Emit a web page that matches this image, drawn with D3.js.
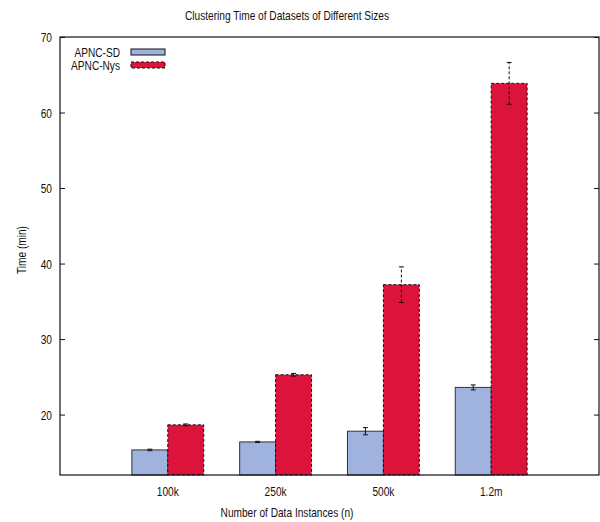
<!DOCTYPE html>
<html>
<head>
<meta charset="utf-8">
<script src="https://cdn.jsdelivr.net/npm/d3@7"></script>
<style>
  html, body { margin: 0; padding: 0; background: #fff; }
  svg text { font-family: "Liberation Sans", Arial, sans-serif; fill: #111; }
</style>
</head>
<body>
<svg id="chart" width="600" height="522"></svg>
<script>
// Dataset sizes and clustering times (minutes), mean and error half-width
const categories = ["100k", "250k", "500k", "1.2m"];
const seriesNames = ["APNC-SD", "APNC-Nys"];
const sdTime = [15.32, 16.38, 17.8, 23.6];
const sdErr = [0.1, 0.08, 0.48, 0.33];
const nysTime = [18.64, 25.27, 37.2, 63.86];
const nysErr = [0.12, 0.18, 2.36, 2.77];
const yTicks = [20, 30, 40, 50, 60, 70];

const svg = d3.select("#chart");
const margin = { left: 60, top: 37, right: 1, bottom: 47 };
const W = 600, H = 522;
const x0 = margin.left, x1 = W - margin.right;
const y0 = margin.top, y1 = H - margin.bottom;

const squeeze = 0.78; // narrow type
function label(sel, x, y, str, anchor, size, rotate) {
  const t = sel.append("text")
    .attr("transform", `translate(${x},${y})` + (rotate ? ` rotate(${rotate})` : "") + ` scale(${squeeze},1)`)
    .attr("text-anchor", anchor)
    .attr("dominant-baseline", "central")
    .style("font-size", size + "px")
    .text(str);
  return t;
}

// group index -1..4 across plot width; bars 1/3 unit wide each
const x = d3.scaleLinear().domain([-1, 4]).range([x0, x1]);
const y = d3.scaleLinear().domain([12, 70]).range([y1, y0]);
const barW = x(1 / 3) - x(0);

const series = [
  { name: seriesNames[0], vals: sdTime, errs: sdErr, fill: "#a0b2de", dash: null, offset: -1 },
  { name: seriesNames[1], vals: nysTime, errs: nysErr, fill: "#dc143c", dash: "3,2", offset: 0 }
];

// bars
series.forEach(s => {
  const g = svg.append("g");
  g.selectAll("rect").data(s.vals).join("rect")
    .attr("x", (d, i) => x(i) + s.offset * barW)
    .attr("y", d => y(d))
    .attr("width", barW)
    .attr("height", d => y(12) - y(d))
    .attr("fill", s.fill)
    .attr("stroke", s.dash ? "#111" : "#333")
    .attr("stroke-width", 1)
    .attr("stroke-dasharray", s.dash);
});

// error bars
series.forEach(s => {
  const g = svg.append("g").attr("stroke", "#111").attr("stroke-width", 1);
  s.vals.forEach((v, i) => {
    const cx = x(i) + s.offset * barW + barW / 2;
    const lo = y(v - s.errs[i]), hi = y(v + s.errs[i]);
    g.append("line").attr("x1", cx).attr("x2", cx).attr("y1", lo).attr("y2", hi)
      .attr("stroke-dasharray", s.dash);
    [lo, hi].forEach(yy => g.append("line")
      .attr("x1", cx - 2.5).attr("x2", cx + 2.5).attr("y1", yy).attr("y2", yy));
  });
});

// frame
svg.append("rect").attr("x", x0).attr("y", y0).attr("width", x1 - x0).attr("height", y1 - y0)
  .attr("fill", "none").attr("stroke", "#111").attr("stroke-width", 1.2);

// y ticks (inward, mirrored on right)
const yAxisL = d3.axisLeft(y).tickValues(yTicks).tickSize(-5).tickFormat("");
const yAxisR = d3.axisRight(y).tickValues(yTicks).tickSize(-5).tickFormat("");
const gl = svg.append("g").attr("transform", `translate(${x0},0)`).call(yAxisL);
const gr = svg.append("g").attr("transform", `translate(${x1},0)`).call(yAxisR);
[gl, gr].forEach(g => { g.select(".domain").remove(); g.selectAll("line").attr("stroke", "#111"); });
yTicks.forEach(t => label(svg, x0 - 8, y(t), String(t), "end", 13));

// x tick labels
categories.forEach((c, i) => label(svg, x(i), 491, c, "middle", 13));

// titles
label(svg, 287, 15, "Clustering Time of Datasets of Different Sizes", "middle", 13);
label(svg, 287, 512, "Number of Data Instances (n)", "middle", 13);
label(svg, 21, 250, "Time (min)", "middle", 13, -90);

// legend
series.forEach((s, k) => {
  const cy = 52 + k * 13;
  label(svg, 120, cy, s.name, "end", 13);
  svg.append("rect").attr("x", 131).attr("y", cy - 3).attr("width", 34).attr("height", 6)
    .attr("fill", s.fill).attr("stroke", "#111").attr("stroke-width", 1)
    .attr("stroke-dasharray", s.dash);
});
</script>
</body>
</html>
